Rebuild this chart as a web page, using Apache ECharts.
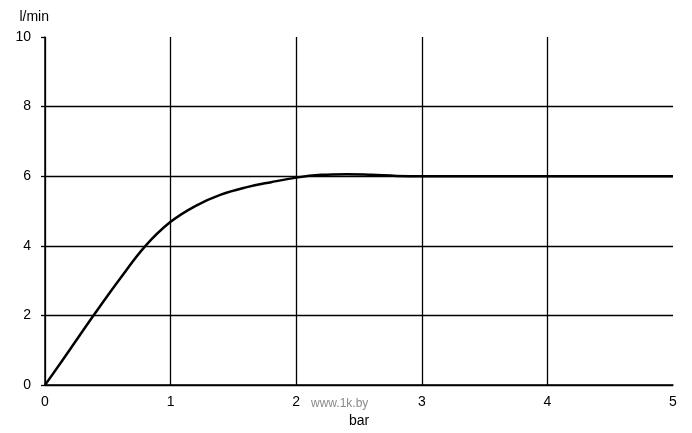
<!DOCTYPE html>
<html>
<head>
<meta charset="utf-8">
<script src="https://cdn.jsdelivr.net/npm/echarts@6/dist/echarts.min.js"></script>
<style>
	html, body { margin: 0; padding: 0; background: #fff; }
	#chart { width: 692px; height: 433px; }
</style>
</head>
<body>
<div id="chart"></div>
<script>
	// pressure (bar) -> flow (l/min)
	let pressure = [0, 0.2, 0.4, 0.6, 0.8, 1.0, 1.2, 1.4, 1.6, 1.8, 2.0, 2.2, 2.4, 2.6, 2.8, 3.0, 3.5, 4.0, 4.5, 5.0];
	let flow = [0, 1.03, 2.07, 3.07, 4.0, 4.69, 5.15, 5.47, 5.68, 5.83, 5.96, 6.04, 6.06, 6.04, 6.01, 6.0, 6.0, 6.0, 6.0, 6.0];
	let xTicks = [0, 1, 2, 3, 4, 5];
	let yTicks = [0, 2, 4, 6, 8, 10];

	let font = 'Liberation Sans, Arial, sans-serif';

	let option = {
		animation: false,
		grid: {
			left: 45,
			right: 19,
			top: 37,
			bottom: 47
		},
		xAxis: {
			type: 'value',
			min: xTicks[0],
			max: xTicks[xTicks.length - 1],
			interval: 1,
			name: 'bar',
			nameLocation: 'middle',
			nameGap: 28,
			nameTextStyle: { color: '#000', fontFamily: font, fontSize: 14 },
			axisLine: { lineStyle: { color: '#000', width: 1.5 } },
			axisTick: { show: false },
			axisLabel: { color: '#000', fontFamily: font, fontSize: 14, margin: 10 },
			splitLine: { show: true, showMaxLine: false, lineStyle: { color: '#000', width: 1.3 } }
		},
		yAxis: {
			type: 'value',
			min: yTicks[0],
			max: yTicks[yTicks.length - 1],
			interval: 2,
			name: 'l/min',
			nameLocation: 'end',
			nameGap: 20,
			nameTextStyle: { color: '#000', fontFamily: font, fontSize: 14, align: 'right', verticalAlign: 'middle', padding: [0, -4, 0, 0] },
			axisLine: { show: true, lineStyle: { color: '#000', width: 1.5 } },
			axisTick: { show: true, length: 4, lineStyle: { color: '#000', width: 1.3 } },
			axisLabel: { color: '#000', fontFamily: font, fontSize: 14, margin: 14 },
			splitLine: { show: true, showMaxLine: false, lineStyle: { color: '#000', width: 1.3 } }
		},
		graphic: [{
			type: 'text',
			left: 311,
			top: 398,
			style: { text: 'www.1k.by', fill: '#8a8a8a', font: '12px ' + font }
		}],
		series: [{
			type: 'line',
			data: pressure.map((p, i) => [p, flow[i]]),
			smooth: 0.4,
			symbol: 'none',
			lineStyle: { color: '#000', width: 2.5 }
		}]
	};

	let chart = echarts.init(document.getElementById('chart'));
	chart.setOption(option);
</script>
</body>
</html>
